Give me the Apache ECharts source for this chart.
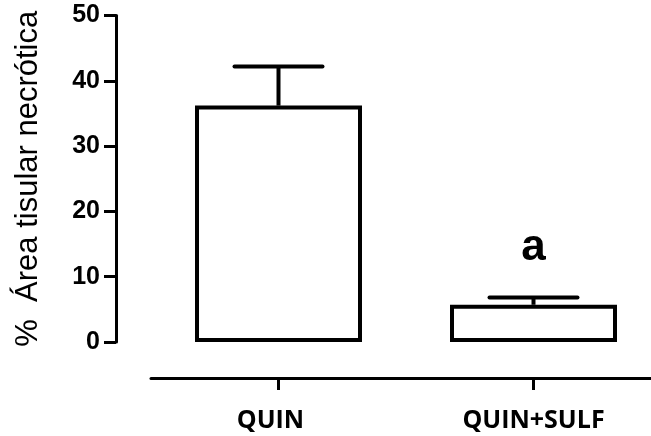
<!DOCTYPE html>
<html>
<head>
<meta charset="utf-8">
<script src="https://cdn.jsdelivr.net/npm/echarts@6/dist/echarts.min.js"></script>
<style>
  html, body { margin: 0; padding: 0; background: #fff; }
  #chart { width: 651px; height: 436px; }
</style>
</head>
<body>
<div id="chart"></div>
<script>
// Group names, means, error (SEM) and significance letters
const categories = ['QUIN', 'QUIN+SULF'];
const means = [36.2, 5.7];
const errors = [6.0, 1.1];
const letters = ['', 'a'];

const chart = echarts.init(document.getElementById('chart'), null, { renderer: 'canvas' });

const errData = categories.map((c, i) => [i, means[i], means[i] + errors[i]]);

const catFont = { fontFamily: 'Open Sans', fontWeight: 'bold', fontSize: 25, color: '#000' };

chart.setOption({
  animation: false,
  grid: {
    left: 151, top: 15.5, width: 510, height: 326.5,
    containLabel: false, outerBoundsMode: 'none'
  },
  xAxis: {
    type: 'category',
    data: categories,
    offset: 36,
    axisLine: { show: true, onZero: false, lineStyle: { color: '#000', width: 3 } },
    axisTick: {
      show: true, interval: 0, alignWithLabel: true, length: 12,
      lineStyle: { color: '#000', width: 3 }
    },
    axisLabel: {
      interval: 0, margin: 30,
      formatter: (v, i) => (i === 0 ? '{first|' + v + '}' : '{rest|' + v + '}'),
      rich: {
        first: Object.assign({ padding: [0, 16, 0, 0] }, catFont),
        rest: Object.assign({}, catFont)
      }
    }
  },
  yAxis: {
    type: 'value',
    min: 0, max: 50, interval: 10,
    offset: 35,
    name: '%  Área tisular necrótica',
    nameLocation: 'middle',
    nameGap: 72,
    nameTextStyle: { color: '#000', fontFamily: 'Liberation Sans', fontSize: 31 },
    splitLine: { show: false },
    axisLine: { show: true, lineStyle: { color: '#000', width: 3 } },
    axisTick: { show: true, length: 12, lineStyle: { color: '#000', width: 3 } },
    axisLabel: {
      margin: 16, color: '#000', fontFamily: 'Liberation Sans', fontWeight: 'bold', fontSize: 25
    }
  },
  series: [
    {
      type: 'bar',
      data: means,
      barWidth: 167,
      itemStyle: { color: '#fff', borderColor: '#000', borderWidth: 4 },
      z: 2
    },
    {
      type: 'custom',
      data: errData,
      z: 3,
      renderItem: function (params, api) {
        const base = api.coord([api.value(0), api.value(1)]);
        const top = api.coord([api.value(0), api.value(2)]);
        const half = 44;
        const letter = letters[params.dataIndex];
        const children = [
          {
            type: 'line',
            shape: { x1: base[0], y1: base[1], x2: top[0], y2: top[1] },
            style: { stroke: '#000', lineWidth: 4 }
          },
          {
            type: 'line',
            shape: { x1: top[0] - half, y1: top[1], x2: top[0] + half, y2: top[1] },
            style: { stroke: '#000', lineWidth: 4, lineCap: 'round' }
          }
        ];
        if (letter) {
          children.push({
            type: 'text',
            style: {
              x: top[0], y: top[1] - 28,
              text: letter,
              fill: '#000',
              font: 'bold 44px "Liberation Sans"',
              align: 'center',
              verticalAlign: 'bottom'
            }
          });
        }
        return { type: 'group', children: children };
      }
    }
  ]
});
</script>
</body>
</html>
